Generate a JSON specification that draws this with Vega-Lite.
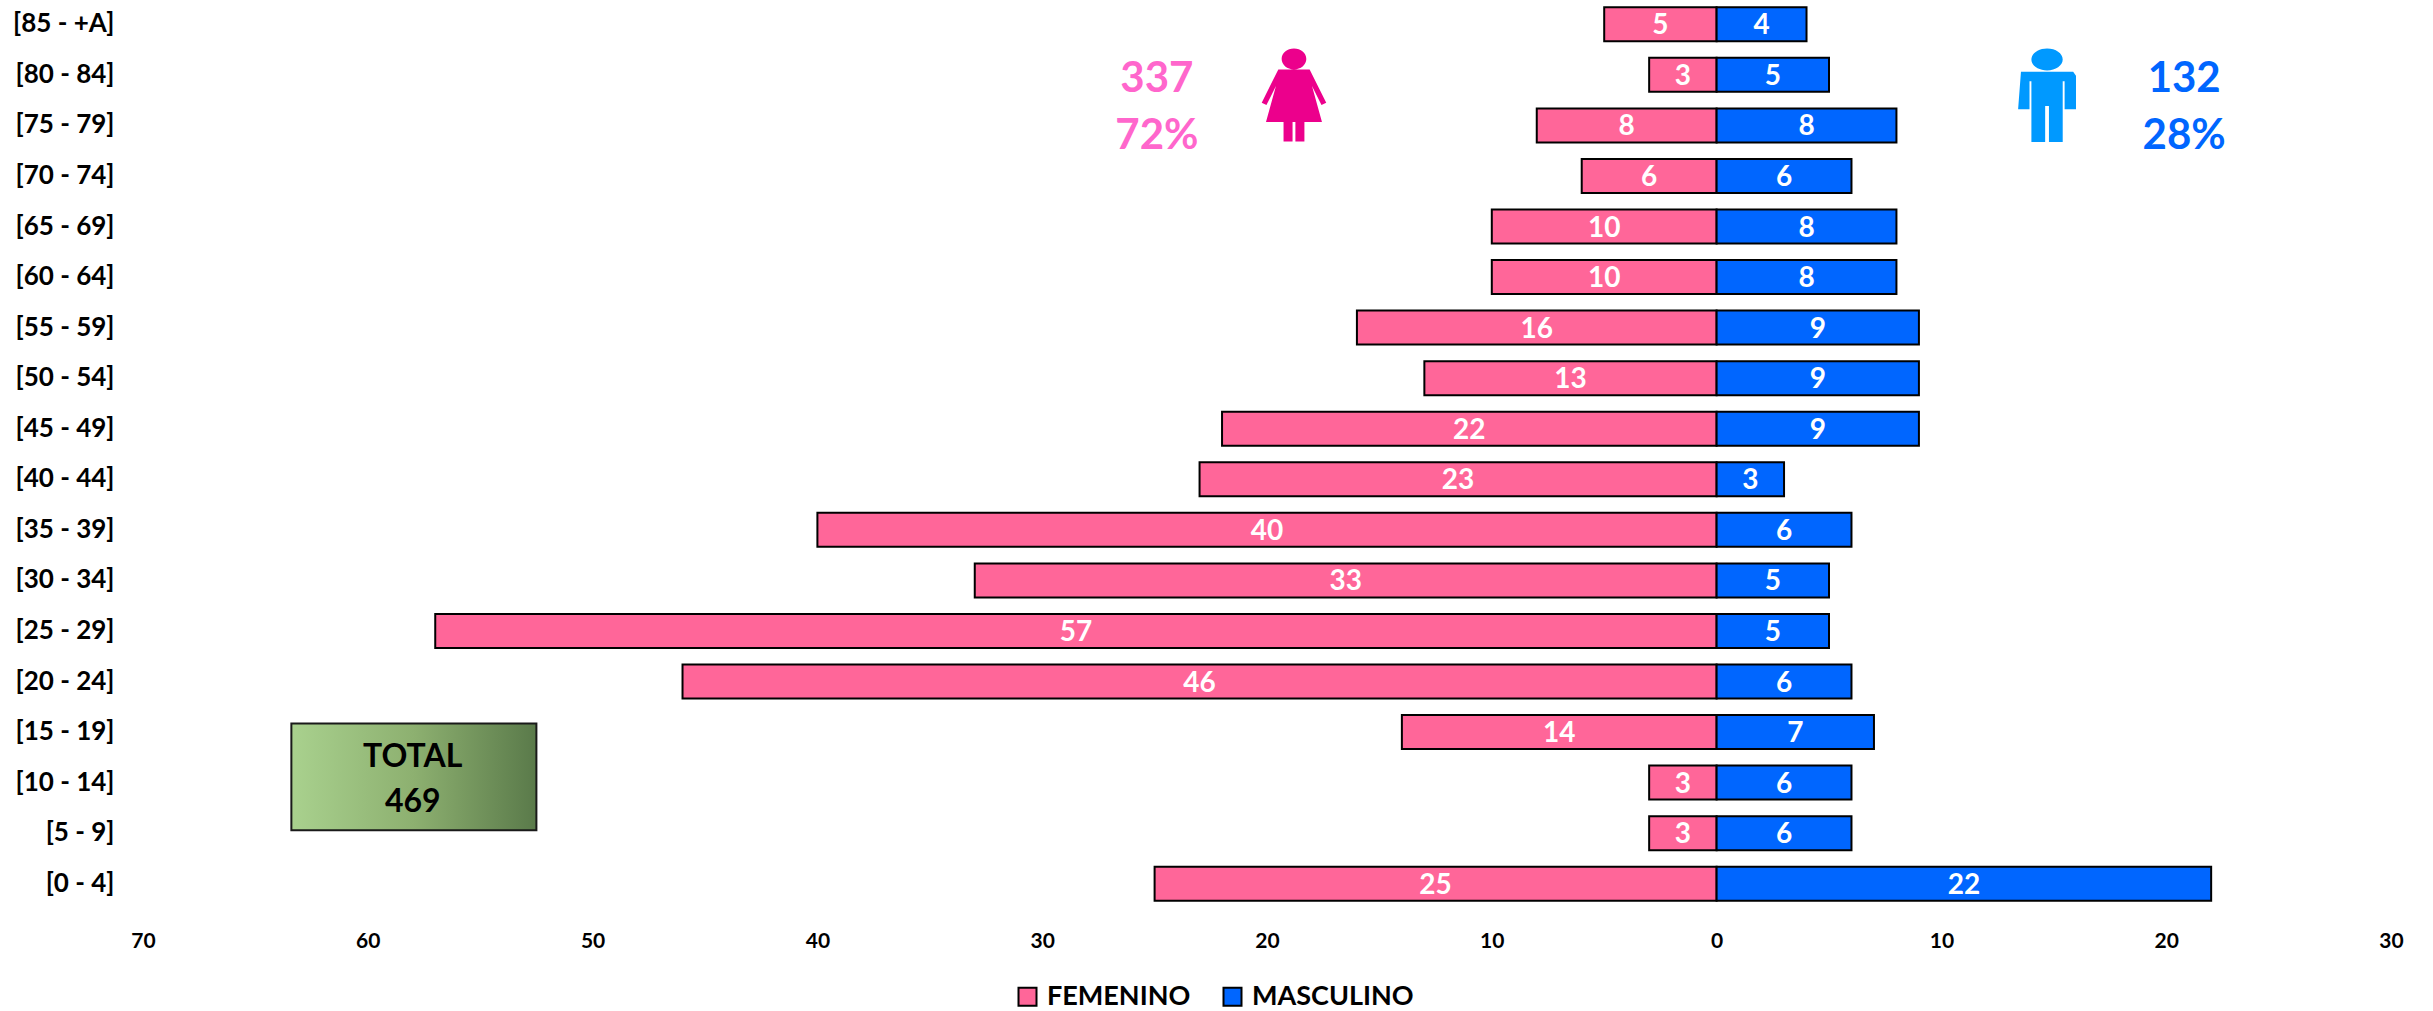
{
  "$schema": "https://vega.github.io/schema/vega-lite/v6.json",
  "width": 2248,
  "height": 909,
  "autosize": {"type": "none"},
  "padding": {"left": 143, "top": 0, "right": 42, "bottom": 102},
  "background": "white",
  "config": {"view": {"stroke": null}, "font": "Lato"},
  "datasets": {
    "bars": [
      {"grupo":"[85 - +A]","sexo":"FEMENINO","posicion":-5,"valor":5},{"grupo":"[85 - +A]","sexo":"MASCULINO","posicion":4,"valor":4},
      {"grupo":"[80 - 84]","sexo":"FEMENINO","posicion":-3,"valor":3},{"grupo":"[80 - 84]","sexo":"MASCULINO","posicion":5,"valor":5},
      {"grupo":"[75 - 79]","sexo":"FEMENINO","posicion":-8,"valor":8},{"grupo":"[75 - 79]","sexo":"MASCULINO","posicion":8,"valor":8},
      {"grupo":"[70 - 74]","sexo":"FEMENINO","posicion":-6,"valor":6},{"grupo":"[70 - 74]","sexo":"MASCULINO","posicion":6,"valor":6},
      {"grupo":"[65 - 69]","sexo":"FEMENINO","posicion":-10,"valor":10},{"grupo":"[65 - 69]","sexo":"MASCULINO","posicion":8,"valor":8},
      {"grupo":"[60 - 64]","sexo":"FEMENINO","posicion":-10,"valor":10},{"grupo":"[60 - 64]","sexo":"MASCULINO","posicion":8,"valor":8},
      {"grupo":"[55 - 59]","sexo":"FEMENINO","posicion":-16,"valor":16},{"grupo":"[55 - 59]","sexo":"MASCULINO","posicion":9,"valor":9},
      {"grupo":"[50 - 54]","sexo":"FEMENINO","posicion":-13,"valor":13},{"grupo":"[50 - 54]","sexo":"MASCULINO","posicion":9,"valor":9},
      {"grupo":"[45 - 49]","sexo":"FEMENINO","posicion":-22,"valor":22},{"grupo":"[45 - 49]","sexo":"MASCULINO","posicion":9,"valor":9},
      {"grupo":"[40 - 44]","sexo":"FEMENINO","posicion":-23,"valor":23},{"grupo":"[40 - 44]","sexo":"MASCULINO","posicion":3,"valor":3},
      {"grupo":"[35 - 39]","sexo":"FEMENINO","posicion":-40,"valor":40},{"grupo":"[35 - 39]","sexo":"MASCULINO","posicion":6,"valor":6},
      {"grupo":"[30 - 34]","sexo":"FEMENINO","posicion":-33,"valor":33},{"grupo":"[30 - 34]","sexo":"MASCULINO","posicion":5,"valor":5},
      {"grupo":"[25 - 29]","sexo":"FEMENINO","posicion":-57,"valor":57},{"grupo":"[25 - 29]","sexo":"MASCULINO","posicion":5,"valor":5},
      {"grupo":"[20 - 24]","sexo":"FEMENINO","posicion":-46,"valor":46},{"grupo":"[20 - 24]","sexo":"MASCULINO","posicion":6,"valor":6},
      {"grupo":"[15 - 19]","sexo":"FEMENINO","posicion":-14,"valor":14},{"grupo":"[15 - 19]","sexo":"MASCULINO","posicion":7,"valor":7},
      {"grupo":"[10 - 14]","sexo":"FEMENINO","posicion":-3,"valor":3},{"grupo":"[10 - 14]","sexo":"MASCULINO","posicion":6,"valor":6},
      {"grupo":"[5 - 9]","sexo":"FEMENINO","posicion":-3,"valor":3},{"grupo":"[5 - 9]","sexo":"MASCULINO","posicion":6,"valor":6},
      {"grupo":"[0 - 4]","sexo":"FEMENINO","posicion":-25,"valor":25},{"grupo":"[0 - 4]","sexo":"MASCULINO","posicion":22,"valor":22}
    ]
  },
  "resolve": {"scale": {"y": "independent"}},
  "layer": [
    {
      "data": {"name": "bars"},
      "mark": {"type": "bar", "stroke": "black", "strokeWidth": 2},
      "encoding": {
        "y": {"field": "grupo", "type": "nominal", "sort": null,
          "scale": {"type": "band", "range": [-1, 909], "paddingInner": 0.327, "paddingOuter": 0.1635,
            "domain": ["[85 - +A]","[80 - 84]","[75 - 79]","[70 - 74]","[65 - 69]","[60 - 64]","[55 - 59]","[50 - 54]","[45 - 49]","[40 - 44]","[35 - 39]","[30 - 34]","[25 - 29]","[20 - 24]","[15 - 19]","[10 - 14]","[5 - 9]","[0 - 4]"]},
          "axis": {"title": null, "domain": false, "ticks": false, "grid": false, "labelPadding": 29, "labelFontSize": 26, "labelFontWeight": "bold", "labelColor": "black", "labelFont": "Lato"}},
        "x": {"field": "posicion", "type": "quantitative",
          "scale": {"domain": [-70, 30], "nice": false, "zero": false},
          "axis": {"title": null, "domain": false, "ticks": false, "grid": false, "values": [-70,-60,-50,-40,-30,-20,-10,0,10,20,30],
            "labelExpr": "abs(datum.value)", "labelFlush": false, "labelPadding": 21, "labelFontSize": 21, "labelFontWeight": "bold", "labelColor": "black", "labelFont": "Lato"}},
        "color": {"field": "sexo", "type": "nominal",
          "scale": {"domain": ["FEMENINO", "MASCULINO"], "range": ["#FF6699", "#0066FF"]},
          "legend": {"title": null, "orient": "none", "legendX": 871, "legendY": 983, "direction": "horizontal", "columns": 2,
            "symbolType": "square", "symbolSize": 324, "symbolStrokeColor": "black", "symbolStrokeWidth": 2, "symbolOpacity": 1,
            "labelFontSize": 27, "labelFontWeight": "bold", "labelColor": "black", "labelFont": "Lato", "labelOffset": 6, "columnPadding": 28, "labelLimit": 300}}
      }
    },
    {
      "data": {"name": "bars"},
      "transform": [{"calculate": "datum.posicion / 2", "as": "centro"}],
      "mark": {"type": "text", "color": "white", "fontSize": 28, "fontWeight": "bold", "font": "Lato", "align": "center", "baseline": "middle", "dy": 2},
      "encoding": {
        "y": {"field": "grupo", "type": "nominal", "sort": null,
          "scale": {"type": "band", "range": [-1, 909], "paddingInner": 0.327, "paddingOuter": 0.1635,
            "domain": ["[85 - +A]","[80 - 84]","[75 - 79]","[70 - 74]","[65 - 69]","[60 - 64]","[55 - 59]","[50 - 54]","[45 - 49]","[40 - 44]","[35 - 39]","[30 - 34]","[25 - 29]","[20 - 24]","[15 - 19]","[10 - 14]","[5 - 9]","[0 - 4]"]},
          "axis": null},
        "x": {"field": "centro", "type": "quantitative"},
        "text": {"field": "valor", "type": "quantitative"}
      }
    },
    {
      "mark": {"type": "rule", "color": "#D9D9D9", "strokeWidth": 2},
      "encoding": {"x": {"datum": 0, "type": "quantitative"}}
    },
    {
      "data": {"values": [{"x1": -63.4, "x2": -52.5, "y1": 3.67, "y2": 1.56}]},
      "mark": {"type": "rect", "stroke": "#1a1a1a", "strokeWidth": 2,
        "fill": {"gradient": "linear", "x1": 0, "y1": 0, "x2": 1, "y2": 0,
          "stops": [{"offset": 0, "color": "#A9D18E"}, {"offset": 0.5, "color": "#8DB070"}, {"offset": 1, "color": "#5A7A4A"}]}},
      "encoding": {
        "x": {"field": "x1", "type": "quantitative"},
        "x2": {"field": "x2"},
        "y": {"field": "y1", "type": "quantitative", "scale": {"domain": [0, 18], "range": [909, -1], "nice": false, "zero": false}, "axis": null},
        "y2": {"field": "y2"}
      }
    },
    {
      "data": {"values": [{"x": -58, "y": 3.0, "t": "TOTAL"}, {"x": -58, "y": 2.12, "t": "469"}]},
      "mark": {"type": "text", "color": "black", "fontSize": 32, "fontWeight": "bold", "font": "Lato", "align": "center", "baseline": "middle"},
      "encoding": {
        "x": {"field": "x", "type": "quantitative"},
        "y": {"field": "y", "type": "quantitative", "scale": {"domain": [0, 18], "range": [909, -1], "nice": false, "zero": false}, "axis": null},
        "text": {"field": "t"}
      }
    },
    {
      "data": {"values": [{"x": -24.9, "y": 16.42, "t": "337"}, {"x": -24.9, "y": 15.29, "t": "72%"}]},
      "mark": {"type": "text", "color": "#FF66CC", "fontSize": 42, "fontWeight": "bold", "font": "Lato", "align": "center", "baseline": "middle"},
      "encoding": {
        "x": {"field": "x", "type": "quantitative"},
        "y": {"field": "y", "type": "quantitative", "scale": {"domain": [0, 18], "range": [909, -1], "nice": false, "zero": false}, "axis": null},
        "text": {"field": "t"}
      }
    },
    {
      "data": {"values": [{"x": 20.8, "y": 16.42, "t": "132"}, {"x": 20.8, "y": 15.29, "t": "28%"}]},
      "mark": {"type": "text", "color": "#0066FF", "fontSize": 42, "fontWeight": "bold", "font": "Lato", "align": "center", "baseline": "middle"},
      "encoding": {
        "x": {"field": "x", "type": "quantitative"},
        "y": {"field": "y", "type": "quantitative", "scale": {"domain": [0, 18], "range": [909, -1], "nice": false, "zero": false}, "axis": null},
        "text": {"field": "t"}
      }
    },
    {
      "data": {"values": [{"x": -18.8, "y": 16.09}]},
      "mark": {"type": "point", "filled": true, "opacity": 1, "color": "#EC008C", "size": 9000,
        "shape": "M-0.26,-0.77 A0.26,0.22 0 1,1 0.26,-0.77 A0.26,0.22 0 1,1 -0.26,-0.77 Z M-0.33,-0.55 L0.33,-0.55 L0.68,0.15 L0.58,0.2 L0.38,-0.2 L0.59,0.56 L0.22,0.56 L0.22,0.97 L0.03,0.97 L0.03,0.56 L-0.03,0.56 L-0.03,0.97 L-0.22,0.97 L-0.22,0.56 L-0.59,0.56 L-0.38,-0.2 L-0.58,0.2 L-0.68,0.15 Z"},
      "encoding": {
        "x": {"field": "x", "type": "quantitative"},
        "y": {"field": "y", "type": "quantitative", "scale": {"domain": [0, 18], "range": [909, -1], "nice": false, "zero": false}, "axis": null}
      }
    },
    {
      "data": {"values": [{"x": 14.7, "y": 16.09}]},
      "mark": {"type": "point", "filled": true, "opacity": 1, "color": "#0099FF", "size": 9000,
        "shape": "M-0.33,-0.76 A0.33,0.23 0 1,1 0.33,-0.76 A0.33,0.23 0 1,1 -0.33,-0.76 Z M-0.55,-0.5 L0.55,-0.5 L0.61,-0.42 L0.61,0.29 L0.37,0.29 L0.37,-0.3 L0.33,-0.3 L0.33,0.98 L0.04,0.98 L0.04,0.22 L-0.04,0.22 L-0.04,0.98 L-0.33,0.98 L-0.33,-0.3 L-0.37,-0.3 L-0.37,0.29 L-0.61,0.29 Z"},
      "encoding": {
        "x": {"field": "x", "type": "quantitative"},
        "y": {"field": "y", "type": "quantitative", "scale": {"domain": [0, 18], "range": [909, -1], "nice": false, "zero": false}, "axis": null}
      }
    }
  ]
}
